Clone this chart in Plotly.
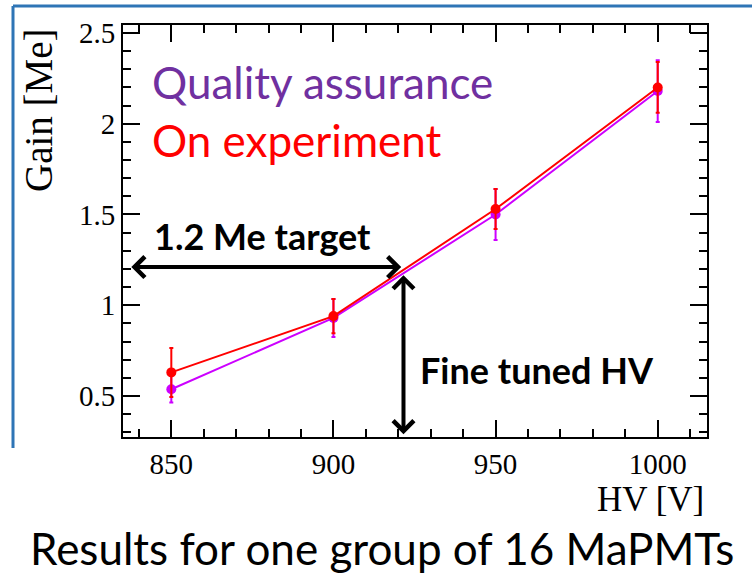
import plotly.graph_objects as go

# Gain vs high voltage for one group of 16 MaPMTs
hv = [850, 900, 950, 1000]

qa_gain = [0.537, 0.93, 1.50, 2.18]
qa_err = [0.073, 0.105, 0.14, 0.17]

exp_gain = [0.63, 0.94, 1.53, 2.20]
exp_err = [0.135, 0.095, 0.11, 0.14]

target_gain = 1.2
tuned_hv = 921.6

x_range = [835.1, 1015.2]
y_range = [0.274, 2.544]

W, H = 752, 573
L, R, T, B = 123, 45, 25, 136
PW, PH = W - L - R, H - T - B


def px(x):
    return (x - L) / PW


def py(y):
    return (H - B - y) / PH


serif = "Liberation Serif"
sans = "Lato"

fig = go.Figure()

fig.add_trace(go.Scatter(
    x=hv, y=qa_gain, mode="lines+markers",
    line=dict(color="#CC00FF", width=2),
    marker=dict(color="#CC00FF", size=10),
    error_y=dict(type="data", array=qa_err, color="#CC00FF", thickness=2, width=2),
    showlegend=False,
))
fig.add_trace(go.Scatter(
    x=hv, y=exp_gain, mode="lines+markers",
    line=dict(color="#FF0000", width=2),
    marker=dict(color="#FF0000", size=10),
    error_y=dict(type="data", array=exp_err, color="#FF0000", thickness=2, width=2),
    showlegend=False,
))

axis_common = dict(
    showline=True, linecolor="black", linewidth=2, mirror="allticks",
    ticks="inside", ticklen=17, tickwidth=1.5, tickcolor="black",
    showgrid=False, zeroline=False,
    tickfont=dict(family=serif, size=29, color="black"),
)

fig.update_xaxes(
    range=x_range, tick0=850, dtick=50,
    minor=dict(dtick=10, ticks="inside", ticklen=8, tickwidth=1.5, tickcolor="black", showgrid=False),
    **axis_common,
)
fig.update_yaxes(
    range=y_range, tick0=0.5, dtick=0.5,
    minor=dict(dtick=0.1, ticks="inside", ticklen=8, tickwidth=1.5, tickcolor="black", showgrid=False),
    **axis_common,
)

# double-headed arrows marking the target gain and the tuned HV
fig.add_annotation(
    x=tuned_hv - 0.7, y=target_gain + 0.01, ax=837.2, ay=target_gain + 0.01,
    xref="x", yref="y", axref="x", ayref="y", text="",
    showarrow=True, arrowhead=4, startarrowhead=4, arrowside="end+start",
    arrowwidth=4, arrowsize=1, startarrowsize=1, arrowcolor="black",
)
fig.add_annotation(
    x=tuned_hv, y=0.289, ax=tuned_hv, ay=target_gain - 0.026,
    xref="x", yref="y", axref="x", ayref="y", text="",
    showarrow=True, arrowhead=4, startarrowhead=4, arrowside="end+start",
    arrowwidth=4, arrowsize=1, startarrowsize=1, arrowcolor="black",
)

texts = [
    ("Quality assurance", 150, 82, sans, 44, "#7030A0", "left"),
    ("On experiment", 150, 140, sans, 44, "#FF0000", "left"),
    ("<b>1.2 Me target</b>", 152, 236, sans, 36, "black", "left"),
    ("<b>Fine tuned HV</b>", 418, 370, sans, 36, "black", "left"),
    ("Results for one group of 16 MaPMTs", 28, 548, sans, 44, "black", "left"),
    ("HV [V]", 706, 499, serif, 35, "black", "right"),
]
for txt, x, y, fam, size, col, anc in texts:
    fig.add_annotation(
        x=px(x), y=py(y), xref="paper", yref="paper", text=txt, showarrow=False,
        xanchor=anc, yanchor="middle", font=dict(family=fam, size=size, color=col),
    )

fig.add_annotation(
    x=px(38), y=py(110), xref="paper", yref="paper", text="Gain [Me]", showarrow=False,
    textangle=-90, xanchor="center", yanchor="middle",
    font=dict(family=serif, size=39, color="black"),
)

# slide frame
fig.add_shape(type="line", xref="paper", yref="paper",
              x0=px(13), x1=px(760), y0=py(6), y1=py(6),
              line=dict(color="#2E75B6", width=3))
fig.add_shape(type="line", xref="paper", yref="paper",
              x0=px(13), x1=px(13), y0=py(6), y1=py(448),
              line=dict(color="#2E75B6", width=3))

fig.update_layout(
    width=W, height=H,
    margin=dict(l=L, r=R, t=T, b=B),
    paper_bgcolor="white", plot_bgcolor="white",
)

fig.write_html("out.html")
